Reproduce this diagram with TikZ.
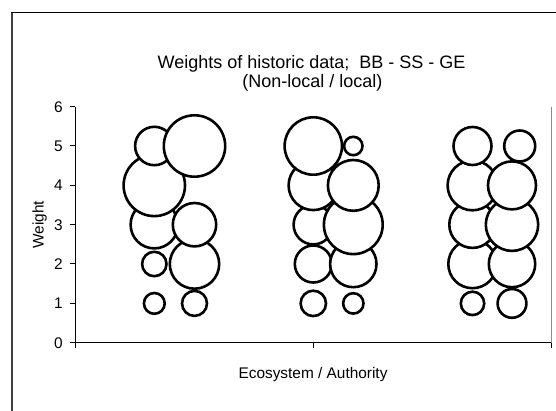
\documentclass[tikz,border=0pt]{standalone}
\usepackage{fontspec}
\setmainfont{Liberation Sans}
\begin{document}
\begin{tikzpicture}[x=1pt,y=-1pt,
  bub/.style={circle, draw=black, fill=white, line width=2.6pt, inner sep=0pt, outer sep=0pt},
  ticklbl/.style={font=\fontsize{15.4}{18}\selectfont, anchor=base east, inner sep=0pt},
  axlbl/.style={font=\fontsize{15.4}{18}\selectfont, inner sep=0pt},
  ttl/.style={font=\fontsize{18}{21}\selectfont, inner sep=0pt, anchor=base},
  axisline/.style={line width=1pt, black},
  frameline/.style={line width=1pt, black}]
\useasboundingbox (0,0) rectangle (556,411);
\fill[white] (0,0) rectangle (556,411);
% outer chart border
\draw[line width=2pt, black!75] (12,411) -- (12,12);
\draw[frameline] (11,12.3) -- (556,12.3);
% titles
\node[ttl] (t1) at (311.5,69) {Weights of historic data;\ \ BB - SS - GE};
\node[ttl] (t2) at (312.5,87.5) {(Non-local / local)};
% plot area right border
\draw[line width=1pt, black!45] (551,106.7) -- (551,342.7);
% axes
\draw[axisline] (75,106.7) -- (75,342.7) -- (551,342.7);
\foreach \w/\yy in {0/342.7,1/303.4,2/264.0,3/224.7,4/185.4,5/146.0,6/106.7}{
  \draw[axisline] (70,\yy) -- (75,\yy);
  \node[ticklbl] (ty\w) at (63,\yy+5.5) {\w};
}
\foreach \xx in {75,313,551}{
  \draw[axisline] (\xx,342.7) -- (\xx,347.7);
}
\node[axlbl, anchor=base] (xl) at (313,378) {Ecosystem / Authority};
\node[axlbl, anchor=base, rotate=90] (yl) at (43.5,224.7) {Weight};
% bubbles, drawn by weight level, left then right
% w = 1
\node[bub, minimum size=20.8] (a1) at (154.3,303.4) {};
\node[bub, minimum size=25.0] (b1) at (194.5,303.4) {};
\node[bub, minimum size=25.4] (c1) at (313.3,303.4) {};
\node[bub, minimum size=20.4] (d1) at (353.3,303.4) {};
\node[bub, minimum size=23.4] (e1) at (472.5,303.4) {};
\node[bub, minimum size=28.8] (f1) at (512.0,303.4) {};
% w = 2
\node[bub, minimum size=24.4] (a2) at (154.3,264.0) {};
\node[bub, minimum size=49.4] (b2) at (194.5,264.0) {};
\node[bub, minimum size=37.0] (c2) at (313.3,264.0) {};
\node[bub, minimum size=46.4] (d2) at (353.3,264.0) {};
\node[bub, minimum size=48.4] (e2) at (472.5,264.0) {};
\node[bub, minimum size=46.4] (f2) at (512.0,264.0) {};
% w = 3
\node[bub, minimum size=47.4] (a3) at (154.3,224.7) {};
\node[bub, minimum size=43.4] (b3) at (194.5,224.7) {};
\node[bub, minimum size=39.4] (c3) at (313.3,224.7) {};
\node[bub, minimum size=58.8] (d3) at (353.3,224.7) {};
\node[bub, minimum size=46.4] (e3) at (472.5,224.7) {};
\node[bub, minimum size=52.4] (f3) at (512.0,224.7) {};
% w = 4
\node[bub, minimum size=61.4] (a4) at (154.3,185.4) {};
\node[bub, minimum size=49.4] (c4) at (313.3,185.4) {};
\node[bub, minimum size=50.8] (d4) at (353.3,185.4) {};
\node[bub, minimum size=49.8] (e4) at (472.5,185.4) {};
\node[bub, minimum size=48.0] (f4) at (512.0,185.4) {};
% w = 5
\node[bub, minimum size=38.4] (a5) at (154.3,146.0) {};
\node[bub, minimum size=61.4] (b5) at (194.5,146.0) {};
\node[bub, minimum size=57.4] (c5) at (313.3,146.0) {};
\node[bub, minimum size=18.4] (d5) at (353.3,146.0) {};
\node[bub, minimum size=38.0] (e5) at (472.5,146.0) {};
\node[bub, minimum size=31.0] (f5) at (519.7,146.0) {};
\end{tikzpicture}
\end{document}
